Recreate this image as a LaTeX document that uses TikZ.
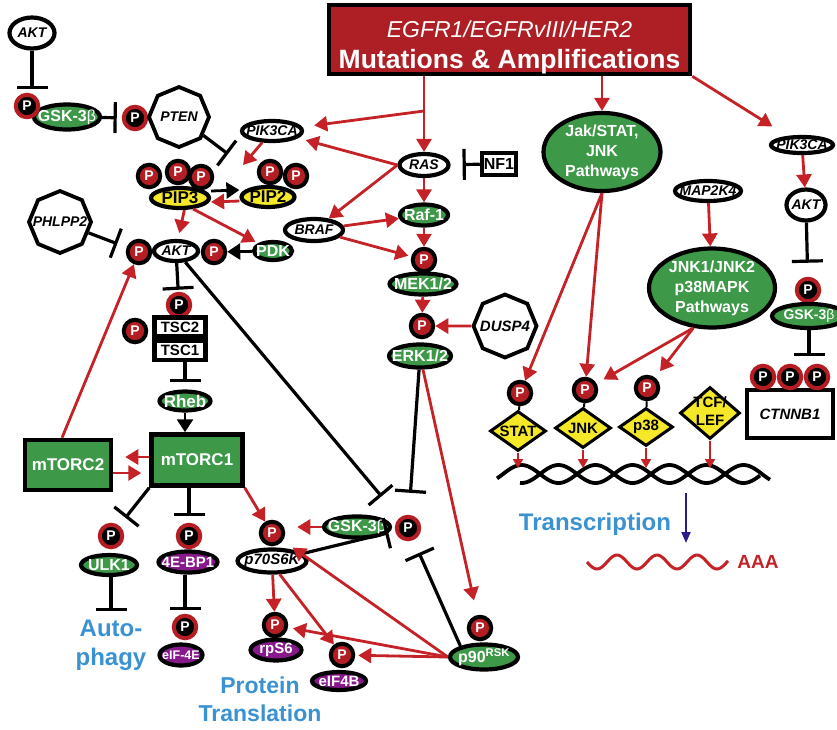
\documentclass[tikz,border=0pt]{standalone}
\usepackage{fontspec}
\setmainfont{Liberation Sans}
\usetikzlibrary{shapes.geometric,arrows.meta,calc}
\definecolor{ared}{RGB}{196,34,38}
\definecolor{hred}{RGB}{173,31,36}
\definecolor{pred}{RGB}{180,30,35}
\definecolor{pgrn}{RGB}{61,153,72}
\definecolor{ppur}{RGB}{135,25,140}
\definecolor{pyel}{RGB}{245,232,40}
\definecolor{pblue}{RGB}{58,146,210}
\definecolor{pind}{RGB}{45,25,140}
\newcommand{\zw}[1]{\makebox[0pt]{#1}}
\newcommand{\fs}[1]{\fontsize{#1}{#1}\selectfont}

\begin{document}
\begin{tikzpicture}[x=1pt,y=-1pt,
      el/.style={ellipse,draw,line width=4.2pt,inner sep=0pt},
      gel/.style={el,fill=pgrn,text=white,font=\bfseries\fs{16}},
      wel/.style={el,fill=white,font=\bfseries\itshape\fs{14}},
      pel/.style={el,fill=ppur,text=white,font=\bfseries\fs{15}},
      yel/.style={el,fill=pyel,font=\bfseries\fs{17}},
      pr/.style={circle,draw=black,fill=pred,line width=4pt,minimum size=22.5pt,inner sep=0pt,text=white,font=\bfseries\fs{14}},
      pb/.style={pr,draw=pred,fill=black},
      oct/.style={regular polygon,regular polygon sides=8,shape border rotate=22.5,draw,line width=3.8pt,fill=white,inner sep=0pt,font=\bfseries\itshape\fs{14}},
      wbox/.style={rectangle,draw,line width=4.5pt,fill=white,inner sep=0pt,font=\bfseries\fs{16}},
      gbox/.style={wbox,fill=pgrn,text=white,font=\bfseries\fs{17}},
      dia/.style={diamond,draw,line width=3pt,fill=pyel,inner sep=0pt,font=\bfseries\fs{15}},
      lbl/.style={text=pblue,font=\bfseries\fontsize{24}{29}\selectfont,align=center,inner sep=0pt},
      rar/.style={draw=ared,line width=2.8pt,-{Triangle[length=13pt,width=15pt]}},
      rsm/.style={draw=ared,line width=2pt,-{Triangle[length=9pt,width=10pt]}},
      kar/.style={draw=black,line width=2.8pt,-{Triangle[length=13pt,width=16pt]}},
      inh/.style={draw=black,line width=3.2pt,-{Bar[width=31pt]}}]
      \useasboundingbox[fill=white] (0,0) rectangle (837,729);
      \node[wbox,fill=hred,minimum width=361pt,minimum height=69pt] (hdr) at (509.5,39.5) {};
      \node[text=white,align=center,font=\fontsize{23}{31}\selectfont] (hdrtxt) at (509.5,47) {{\itshape EGFR1/EGFRvIII/HER2}\\{\bfseries\fontsize{26.5}{31}\selectfont Mutations \& Amplifications}};
      \coordinate (hb) at (424,111);
      \node[wel,minimum width=45pt,minimum height=31pt] (akt0) at (32,33) {\zw{AKT}};
      \node[gel,minimum width=66pt,minimum height=25pt] (gsk0) at (67,117) {\zw{GSK-3{\mdseries β}}};
      \node[pb] (p0) at (27,106) {P};
      \node[pb] (p1) at (135,118) {P};
      \node[oct,minimum size=60pt] (pten) at (179,117) {\zw{PTEN}};
      \coordinate (ptenbar) at (228,154);
      \node[wel,minimum width=60pt,minimum height=20pt] (pik) at (272,131) {\zw{PIK3CA}};
      \node[wel,minimum width=49pt,minimum height=22pt] (ras) at (424,165) {\zw{RAS}};
      \node[wbox,minimum width=34pt,minimum height=22pt] (nf1) at (499,164) {NF1};
      \node[gel,minimum width=48pt,minimum height=21pt] (raf) at (424,215) {\zw{Raf-1}};
      \node[wel,minimum width=58pt,minimum height=22pt] (braf) at (314,230) {\zw{BRAF}};
      \node[pr] (mekp) at (424,260) {P};
      \node[gel,minimum width=67pt,minimum height=21pt] (mek) at (423,284) {\zw{MEK1/2}};
      \node[pr] (erkp) at (422,326) {P};
      \node[gel,minimum width=62pt,minimum height=23pt] (erk) at (420,356) {\zw{ERK1/2}};
      \node[oct,minimum size=63pt,font=\bfseries\itshape\fs{15}] (dusp) at (505,326) {\zw{DUSP4}};
      \node[pr] (pa1) at (149,176) {P};
      \node[pr] (pa2) at (178,172) {P};
      \node[pr] (pa3) at (201,177) {P};
      \node[yel,minimum width=58pt,minimum height=20pt] (pip3) at (180,198) {\zw{PIP3}};
      \node[pr] (pb1) at (270,172) {P};
      \node[pr] (pb2) at (296,176) {P};
      \node[yel,minimum width=53pt,minimum height=20pt] (pip2) at (268,197) {\zw{PIP2}};
      \coordinate (pipin) at (243,165);
      \node[oct,minimum size=62pt] (phl) at (60,222) {\zw{PHLPP2}};
      \node[wel,minimum width=44pt,minimum height=20pt] (akt) at (176,251) {\zw{AKT}};
      \node[pr] (ap1) at (139,252) {P};
      \node[pr] (ap2) at (214,252) {P};
      \node[gel,minimum width=38pt,minimum height=18pt] (pdk) at (273,251) {\zw{PDK}};
      \node[pb] (tp1) at (179,305) {P};
      \node[wbox,minimum width=51pt,minimum height=19pt,font=\bfseries\fs{15}] (tsc2) at (180,327) {TSC2};
      \node[wbox,minimum width=51pt,minimum height=19pt,font=\bfseries\fs{15}] (tsc1) at (180,350.5) {TSC1};
      \node[pr] (tp0) at (135,331) {P};
      \node[gel,minimum width=51pt,minimum height=19pt,font=\bfseries\fs{17}] (rheb) at (185,401) {\zw{Rheb}};
      \node[gbox,minimum width=91pt,minimum height=51pt] (mt1) at (197,460) {mTORC1};
      \node[gbox,minimum width=86pt,minimum height=50pt] (mt2) at (68,465) {mTORC2};
      \node[pb] (up) at (111,536) {P};
      \node[gel,minimum width=56pt,minimum height=20pt] (ulk) at (109,565) {\zw{ULK1}};
      \node[pb] (bpp) at (189,536) {P};
      \node[pel,minimum width=59pt,minimum height=21pt] (ebp) at (188,562) {\zw{4E-BP1}};
      \node[pb] (e4p) at (185,627) {P};
      \node[pel,minimum width=43pt,minimum height=21pt,font=\bfseries\fs{12.5}] (e4e) at (181,655) {\zw{eIF-4E}};
      \node[lbl] (auto) at (111,645) {Auto-\\phagy};
      \coordinate (autobar) at (111,611);
      \node[pr] (sixp) at (272,533) {P};
      \node[wel,minimum width=69pt,minimum height=23pt,font=\bfseries\itshape\fs{15}] (six) at (272,561) {\zw{p70S6K}};
      \node[gel,minimum width=66pt,minimum height=21pt] (gskm) at (357,527) {\zw{GSK-3{\mdseries β}}};
      \node[pb] (pgm) at (408,528) {P};
      \node[pr] (rpp) at (275,625) {P};
      \node[pel,minimum width=51pt,minimum height=21pt] (rps) at (276,650) {\zw{rpS6}};
      \node[pr] (ebpp) at (342,655) {P};
      \node[pel,minimum width=54pt,minimum height=18pt] (e4b) at (339,681) {\zw{eIF4B}};
      \node[pr] (p9p) at (480,628) {P};
      \node[gel,minimum width=68pt,minimum height=25pt] (p90) at (484,657) {\zw{p90\textsuperscript{RSK}}};
      \node[lbl,font=\bfseries\fontsize{23}{28}\selectfont] (prot) at (260,699) {Protein\\Translation};
      \node[gel,minimum width=117pt,minimum height=78pt,align=center,font=\bfseries\fontsize{16}{20}\selectfont] (jak) at (602,152) {Jak/STAT,\\JNK\\Pathways};
      \node[wel,minimum width=66pt,minimum height=20pt,font=\bfseries\itshape\fs{14}] (map) at (708,191) {\zw{MAP2K4}};
      \node[gel,minimum width=126pt,minimum height=79pt,align=center,font=\bfseries\fontsize{16}{20}\selectfont] (jnk1) at (712,288) {JNK1/JNK2\\p38MAPK\\Pathways};
      \node[wel,minimum width=62pt,minimum height=16pt] (pik2) at (802,145) {\zw{PIK3CA}};
      \node[wel,minimum width=39pt,minimum height=31pt] (akt2) at (806,205) {\zw{AKT}};
      \node[pb] (pg2) at (808,290) {P};
      \node[gel,minimum width=74pt,minimum height=24pt,font=\bfseries\fs{14}] (gsk2) at (809,316) {\zw{GSK-3{\mdseries β}}};
      \node[wbox,minimum width=86pt,minimum height=48pt,font=\bfseries\itshape\fs{15}] (ctn) at (790,414) {CTNNB1};
      \node[pb] (cp1) at (763,377) {P};
      \node[pb] (cp2) at (790,377) {P};
      \node[pb] (cp3) at (817,377) {P};
      \draw[line width=3.8pt] plot[domain=497:770,samples=140] (\x,{474+9*sin((\x-540)*4.865)});
      \draw[line width=3.8pt] plot[domain=520:760,samples=130] (\x,{474-9*sin((\x-540)*4.865)});
      \coordinate (dna) at (640,468);
      \node[dia,minimum width=56pt,minimum height=40pt] (stat) at (518,431) {\zw{STAT}};
      \node[dia,minimum width=56pt,minimum height=40pt] (jnk) at (583,428) {\zw{JNK}};
      \node[dia,minimum width=54pt,minimum height=38pt] (p38) at (646,427) {\zw{p38}};
      \node[dia,minimum width=60pt,minimum height=52pt,font=\bfseries\fontsize{15}{18}\selectfont] (tcf) at (710,413) {\zw{\begin{tabular}{@{}c@{}}TCF/\\LEF\end{tabular}}};
      \node[pr] (sp) at (520,393) {P};
      \node[pr] (jp) at (585,390) {P};
      \node[pr] (xp) at (647,388) {P};
      \node[lbl] (trx) at (595,524) {Transcription};
      \coordinate (tr0) at (686,493);
      \coordinate (tr1) at (686,543);
      \draw[ared,line width=3pt] plot[domain=587:728,samples=80] (\x,{562+7*sin((\x-587)*9)});
      \node[text=ared,font=\bfseries\fs{19}] (aaa) at (758,562) {AAA};
      \draw[rar] (hdr.south -| ras) -- (ras);
      \draw[rar,shorten >=12pt] (hb) -- (pik);
      \draw[rar,shorten >=8pt] (ras.west) -- (pik);
      \draw[rar] (ras.west) -- (braf);
      \draw[rar] (ras) -- (raf);
      \draw[rar] (braf) -- (raf);
      \draw[rar,shorten >=3pt] (braf) -- (mekp);
      \draw[rar] (raf) -- (mekp);
      \draw[rar] (mek) -- (erkp);
      \draw[rar] (dusp) -- (erkp);
      \draw[inh,shorten >=12pt] (nf1) -- (ras);
      \draw[inh,shorten >=4pt] (akt0) -- (akt0 |- p0.north);
      \draw[inh,shorten >=5pt] (gsk0) -- (p1);
      \draw[inh] (pten) -- (ptenbar);
      \draw[rar] (pik) -- (pipin);
      \draw[kar] ([yshift=7pt]pip3.east) -- ([yshift=7pt]pip2.west);
      \draw[rar] ([yshift=-4pt]pip2.west) -- ([yshift=-4pt]pip3.east);
      \draw[rar,shorten >=6pt] (pip3.290) -- (akt.80);
      \draw[rar,shorten >=3pt] (pip3.320) -- (pdk);
      \draw[kar] (pdk) -- (ap2);
      \draw[inh,shorten >=10pt] (phl) -- (ap1);
      \draw[rar] ([xshift=-6pt]mt2.north) -- (ap1);
      \draw[inh,shorten >=2pt] (akt) -- (tp1);
      \draw[inh,shorten >=7pt] (tsc1.south -| rheb) -- (rheb);
      \draw[kar] (rheb) -- (rheb |- mt1.north);
      \draw[rar,shorten >=12pt] ([yshift=3pt]mt1.west) -- ([yshift=3pt]mt1.west -| mt2.east);
      \draw[rar,shorten >=8pt] ([yshift=-8pt]mt2.east) -- ([yshift=-8pt]mt2.east -| mt1.west);
      \draw[inh,shorten >=10pt] (mt1.south west) -- (up);
      \draw[inh,shorten >=7pt] (mt1.south -| bpp) -- (bpp);
      \draw[inh,shorten >=4pt] (ebp.south -| e4p) -- (e4p);
      \draw[inh] (ulk.south -| autobar) -- (autobar);
      \draw[rar] (mt1.south east) -- (sixp);
      \draw[rar,shorten >=12pt] (gskm.west) -- (gskm.west -| sixp.east);
      \draw[inh,shorten >=28pt] (akt) -- (pgm);
      \draw[inh,shorten >=22pt] (erk) -- (pgm);
      \draw[inh,shorten >=7pt] (six) -- (pgm);
      \draw[inh,shorten >=14pt] (p90.155) -- (pgm);
      \draw[rar,shorten >=15pt] (erk) -- (p9p);
      \draw[rar,shorten >=12pt] (p90.west) -- (sixp);
      \draw[rar,shorten >=5pt] (p90.west) -- (rpp);
      \draw[rar,shorten >=3pt] (p90.west) -- (ebpp);
      \draw[rar] (six) -- (rpp);
      \draw[rar] (six.300) -- (ebpp);
      \draw[rar] (hdr.south -| jak) -- (jak);
      \draw[rar,shorten >=18pt] (hdr.south east) -- (pik2);
      \draw[rar] (pik2) -- (akt2);
      \draw[inh,shorten >=14pt] (akt2) -- (pg2);
      \draw[inh,shorten >=8pt] (gsk2) -- (gsk2 |- cp2.north);
      \draw[rar] (map) -- (jnk1);
      \draw[rar] (jak.south) -- (sp);
      \draw[rar] (jak.south) -- (jp);
      \draw[rar,shorten >=8pt] (jnk1.245) -- (jp);
      \draw[rar,shorten >=8pt] (jnk1.245) -- (xp);
      \draw[line width=2pt] (sp) -- (stat);
      \draw[line width=2pt] (jp) -- (jnk);
      \draw[line width=2pt] (xp) -- (p38);
      \draw[rsm] (stat) -- (stat |- dna);
      \draw[rsm] (jnk) -- (jnk |- dna);
      \draw[rsm] (p38) -- (p38 |- dna);
      \draw[rsm] (tcf) -- (tcf |- dna);
      \draw[pind,line width=2pt,-{Triangle[length=11pt,width=9pt]}] (tr0) -- (tr1);
    \end{tikzpicture}
\end{document}
